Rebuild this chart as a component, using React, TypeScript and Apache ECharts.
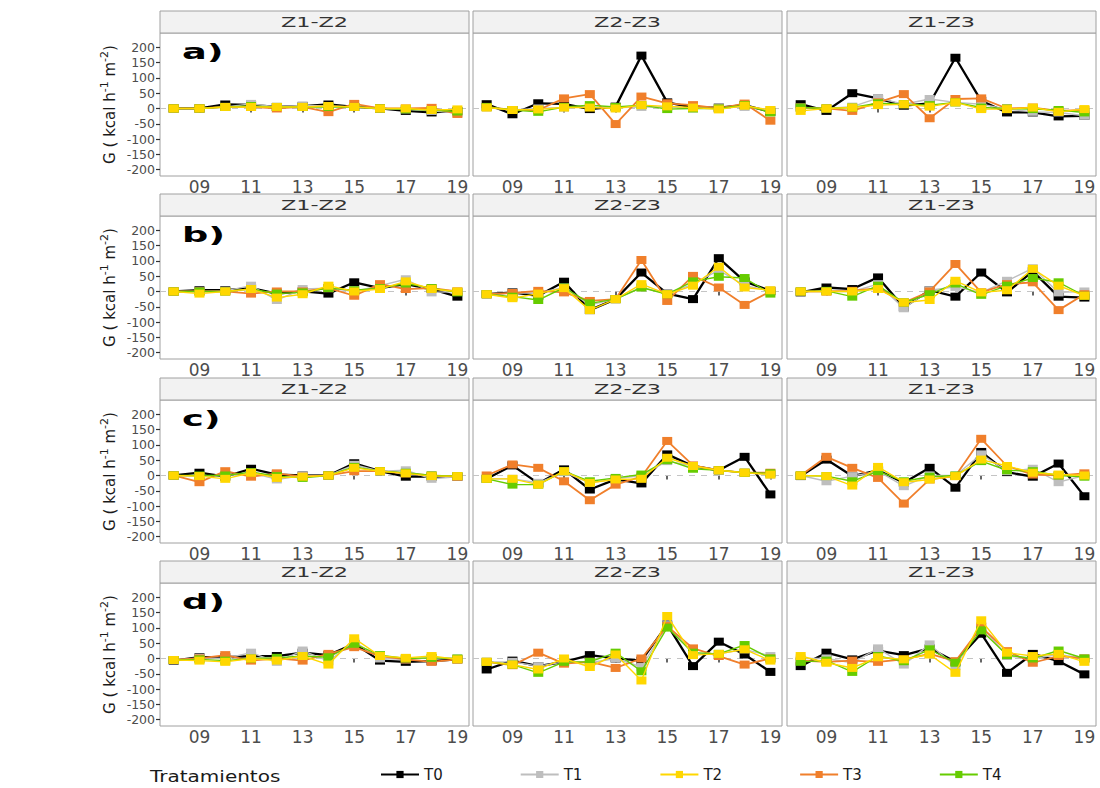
import React, { useEffect, useRef } from "react";
import * as echarts from "echarts";

const HOURS = [8, 9, 10, 11, 12, 13, 14, 15, 16, 17, 18, 19];
const TREATMENTS = ["T0", "T1", "T2", "T3", "T4"];
const FACETS = ["Z1-Z2", "Z2-Z3", "Z1-Z3"];
const ROW_LABELS = ["a)", "b)", "c)", "d)"];
const Y_TICKS = [-200, -150, -100, -50, 0, 50, 100, 150, 200];
const X_TICKS = [9, 11, 13, 15, 17, 19];
const COLORS = ["#000000", "#BEBEBE", "#FFD700", "#F07F2B", "#66CC00"];
const LINE_W = [2.3, 1.4, 1.4, 1.8, 1.4];
const DRAW_ORDER = [0, 1, 3, 4, 2];

// rows: T0, T1, T2, T3, T4 ; columns: hours 08..19
const A_Z1Z2 = [
  [0, 0, 13, 12, 5, 8, 13, 5, 0, -8, -13, -8],
  [0, 0, 5, 15, 5, 10, 8, 5, 0, -3, -8, -15],
  [0, 0, 5, 5, 5, 5, 8, 5, 0, 0, -5, -3],
  [0, 0, 5, 5, 0, 5, -12, 15, 0, 0, 2, -18],
  [0, 0, 5, 8, 5, 5, 5, 5, 0, -3, -5, -10],
];
const A_Z2Z3 = [
  [14, -19, 17, 15, -2, 6, 173, 20, 3, 3, 11, -11],
  [3, -5, 0, 3, 5, 3, 5, 5, 0, 3, 5, -5],
  [3, -5, -3, 3, 3, 0, 11, 7, 3, -3, 9, -5],
  [5, -5, -5, 33, 47, -51, 39, 17, 11, 0, 16, -40],
  [5, -5, -11, 5, 11, 5, 11, -2, 0, 0, 11, -13],
];
const A_Z1Z3 = [
  [14, -8, 50, 33, 9, 17, 166, 25, -13, -13, -26, -24],
  [3, 0, 6, 34, 14, 31, 20, 14, -2, -11, -13, -24],
  [-8, 0, 3, 11, 14, 6, 20, -2, -2, 3, -11, -2],
  [3, 0, -8, 20, 47, -32, 31, 33, 0, 3, -8, -5],
  [3, 0, 3, 17, 14, 11, 20, 3, 0, -2, -5, -13],
];
const B_Z1Z2 = [
  [0, 4, 4, 11, -7, 0, -7, 30, 11, 24, 8, -17],
  [0, 0, 2, 19, -28, 8, 11, 0, 19, 40, -3, 0],
  [0, -7, 0, 8, -20, -9, 19, 0, 8, 33, 8, 0],
  [0, 0, 0, -7, 0, 0, 11, -14, 24, 8, 11, 0],
  [0, 0, 0, 8, -7, -3, 11, 4, 11, 26, 11, -3],
];
const B_Z2Z3 = [
  [-9, -3, -14, 32, -61, -25, 62, -7, -25, 109, 33, 2],
  [-9, -5, -5, 13, -44, -25, 13, -7, 24, 70, 19, 2],
  [-9, -22, -7, 11, -61, -25, 24, -9, 19, 81, 13, 4],
  [-9, -5, 2, -3, -31, -25, 103, -31, 51, 13, -44, 0],
  [-9, -17, -28, 13, -39, -25, 13, -9, 33, 48, 44, -7],
];
const B_Z1Z3 = [
  [-3, 13, 8, 46, -52, 4, -17, 62, -3, 66, -17, -20],
  [0, 0, 0, 24, -55, 4, 15, -3, 35, 76, -3, 0],
  [0, 0, 0, 8, -36, -28, 35, -3, 4, 74, 19, -14],
  [0, 0, 2, 11, -36, 0, 90, -3, 24, 30, -61, -9],
  [0, 2, -17, 19, -36, -9, 26, -11, 19, 44, 30, -14],
];
const C_Z1Z2 = [
  [0, 9, -4, 22, 3, 0, 0, 40, 14, -4, -4, -4],
  [0, -2, 0, 9, -13, 0, 0, 35, 14, 17, -11, -4],
  [0, -2, -11, 9, -8, -4, 0, 25, 14, 7, -2, -2],
  [0, -22, 14, -4, 7, -4, 0, 14, 14, 7, 0, -4],
  [0, 0, 0, 11, -2, -8, 0, 28, 14, 9, 0, -2],
];
const C_Z2Z3 = [
  [-11, 33, -26, 20, -46, -13, -26, 69, 31, 17, 61, -62],
  [-11, -11, -24, 11, -24, -11, 0, 47, 31, 17, 9, 3],
  [-11, -11, -30, 14, -24, -13, -11, 58, 31, 17, 9, 3],
  [0, 36, 25, -19, -81, -30, -4, 113, 33, 17, 9, 9],
  [-11, -30, -30, 14, -19, -8, 3, 50, 22, 17, 9, 7],
];
const C_Z1Z3 = [
  [-2, 52, -2, 17, -24, 25, -40, 77, 11, -4, 39, -68],
  [0, -19, -2, 14, -35, 0, 0, 69, 14, 22, -22, 0],
  [0, -2, -33, 28, -22, -13, -2, 52, 31, 9, 3, 0],
  [0, 61, 25, -8, -92, -13, -2, 120, 31, 3, 0, 7],
  [0, -2, -19, 14, -19, -4, 0, 47, 17, 14, 0, -4],
];
const D_Z1Z2 = [
  [-7, 4, 4, 8, 8, 19, 11, 48, -7, -11, -9, -3],
  [-5, 2, 0, 19, -11, 26, -9, 55, 0, -3, 2, 0],
  [-5, -7, -11, 0, -7, 8, -20, 66, 8, 2, 8, -3],
  [-5, 0, 11, -7, 0, -7, 15, 37, 8, -3, -11, -3],
  [-5, -3, -7, 0, 2, 8, 4, 48, 11, 0, 2, 0],
];
const D_Z2Z3 = [
  [-36, -7, -25, -11, 11, 0, -7, 111, -25, 55, 13, -44],
  [-11, -11, -25, -11, -14, 0, -28, 109, 15, 15, 30, 8],
  [-11, -20, -36, 0, -28, 13, -72, 139, 11, 15, 30, -7],
  [-11, -22, 19, -17, -11, -31, 0, 106, 33, 8, -20, 0],
  [-11, -20, -47, -11, -11, 19, -42, 101, 19, 15, 44, 0],
];
const D_Z1Z3 = [
  [-25, 19, -3, 26, 11, 33, -11, 81, -47, 15, -9, -52],
  [0, 0, -14, 33, -20, 46, -25, 106, 8, 0, 13, 0],
  [8, -14, -31, 4, -3, 13, -47, 125, 19, 8, 15, -11],
  [-7, -11, -7, -11, -3, 15, -9, 103, 24, -14, 8, 0],
  [-11, -7, -44, 8, -9, 30, -14, 92, 11, 0, 26, 0],
];

const PANELS = [
  [A_Z1Z2, A_Z2Z3, A_Z1Z3],
  [B_Z1Z2, B_Z2Z3, B_Z1Z3],
  [C_Z1Z2, C_Z2Z3, C_Z1Z3],
  [D_Z1Z2, D_Z2Z3, D_Z1Z3],
];

const COL_LEFT = [160, 473, 787];
const COL_W = 309;
const ROW_TOP = [33, 216, 400, 583];
const ROW_H = 143;
const STRIP_H = 22;
const FONT = "DejaVu Sans";

function buildOption() {
  const grid: any[] = [];
  const xAxis: any[] = [];
  const yAxis: any[] = [];
  const series: any[] = [];
  const graphic: any[] = [];
  let gi = 0;
  for (let r = 0; r < 4; r++) {
    for (let c = 0; c < 3; c++) {
      const left = COL_LEFT[c];
      const top = ROW_TOP[r];
      grid.push({
        left,
        top,
        width: COL_W,
        height: ROW_H,
        show: true,
        backgroundColor: "#ffffff",
        borderColor: "#a0a0a0",
        borderWidth: 1,
      });
      xAxis.push({
        type: "value",
        gridIndex: gi,
        min: 7.47,
        max: 19.45,
        axisLine: { show: false },
        splitLine: { show: false },
        axisTick: {
          show: true,
          customValues: X_TICKS,
          length: 4,
          lineStyle: { color: "#333333", width: 1.5 },
        },
        axisLabel: {
          customValues: X_TICKS,
          formatter: (v: number) => String(v).padStart(2, "0"),
          fontSize: 17,
          fontFamily: FONT,
          color: "#4d4d4d",
          margin: 2,
        },
      });
      const yax: any = {
        type: "value",
        gridIndex: gi,
        min: -221,
        max: 247,
        axisLine: { show: false },
        splitLine: { show: false },
        axisTick: {
          show: c === 0,
          customValues: Y_TICKS,
          length: 4,
          lineStyle: { color: "#333333", width: 1.2 },
        },
        axisLabel: {
          show: c === 0,
          customValues: Y_TICKS,
          fontSize: 12.5,
          fontFamily: FONT,
          color: "#4d4d4d",
          margin: 5,
        },
      };
      if (c === 0) {
        yax.name = "{m|G ( kcal h}{s|-1}{m| m}{s|-2}{m|)}";
        yax.nameLocation = "middle";
        yax.nameRotate = 90;
        yax.nameGap = 39;
        yax.nameTextStyle = {
          rich: {
            m: { fontSize: 15, fontFamily: FONT, color: "#1a1a1a", lineHeight: 22 },
            s: { fontSize: 11, fontFamily: FONT, color: "#1a1a1a", lineHeight: 12, verticalAlign: "top" },
          },
        };
      }
      yAxis.push(yax);

      const panel = PANELS[r][c];
      DRAW_ORDER.forEach((t, k) => {
        const s: any = {
          type: "line",
          name: TREATMENTS[t],
          xAxisIndex: gi,
          yAxisIndex: gi,
          data: HOURS.map((h, i) => [h, panel[t][i]]),
          symbol: "rect",
          symbolSize: [10, 8],
          showSymbol: true,
          color: COLORS[t],
          itemStyle: { color: COLORS[t] },
          lineStyle: { color: COLORS[t], width: LINE_W[t] },
          emphasis: { disabled: true },
          silent: true,
          z: 2 + k,
        };
        if (k === 0) {
          s.markLine = {
            silent: true,
            symbol: "none",
            label: { show: false },
            lineStyle: { type: [6, 6], color: "#c4c4c4", width: 1 },
            data: [{ yAxis: 0 }],
            z: 1,
          };
        }
        series.push(s);
      });

      // facet strip
      graphic.push({
        type: "rect",
        shape: { x: left, y: top - STRIP_H, width: COL_W, height: STRIP_H },
        style: { fill: "#F2F2F2", stroke: "#a0a0a0", lineWidth: 1 },
        silent: true,
      });
      graphic.push({
        type: "text",
        x: left + COL_W / 2,
        y: top - STRIP_H / 2,
        scaleX: 1.6,
        style: {
          text: FACETS[c],
          fontSize: 14,
          fontFamily: FONT,
          fill: "#333333",
          textAlign: "center",
          textVerticalAlign: "middle",
        },
        silent: true,
      });
      if (c === 0) {
        graphic.push({
          type: "text",
          x: left + 22,
          y: top + 19,
          scaleX: 1.75,
          z: 100,
          style: {
            text: ROW_LABELS[r],
            fontSize: 21,
            fontWeight: "bold",
            fontFamily: FONT,
            fill: "#000000",
            textAlign: "left",
            textVerticalAlign: "middle",
          },
          silent: true,
        });
      }
      gi++;
    }
  }
  graphic.push({
    type: "text",
    x: 150,
    y: 776,
    scaleX: 1.25,
    style: {
      text: "Tratamientos",
      fontSize: 16,
      fontFamily: FONT,
      fill: "#1a1a1a",
      textAlign: "left",
      textVerticalAlign: "middle",
    },
    silent: true,
  });

  return {
    animation: false,
    backgroundColor: "#ffffff",
    grid,
    xAxis,
    yAxis,
    series,
    graphic,
    legend: {
      data: TREATMENTS,
      left: 380,
      top: 767,
      padding: 0,
      itemWidth: 38,
      itemHeight: 9,
      itemGap: 77,
      selectedMode: false,
      textStyle: { fontSize: 15, fontFamily: FONT, color: "#1a1a1a" },
    },
  };
}

export default function App() {
  const ref = useRef<HTMLDivElement>(null);
  useEffect(() => {
    if (!ref.current) return;
    const chart = echarts.init(ref.current, undefined, { renderer: "svg" });
    chart.setOption(buildOption() as any);
    return () => chart.dispose();
  }, []);
  return (
    <div
      ref={ref}
      style={{ position: "absolute", left: 0, top: 0, width: 1100, height: 788 }}
    />
  );
}
